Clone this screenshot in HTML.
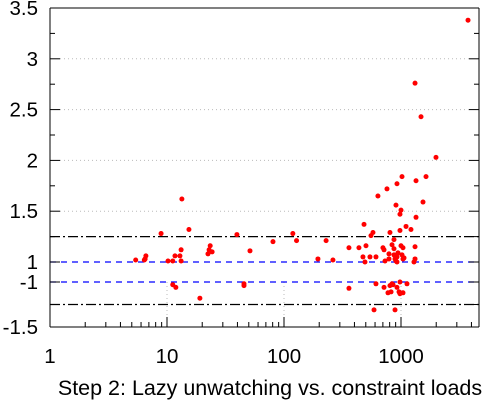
<!DOCTYPE html>
<html><head><meta charset="utf-8"><style>
html,body{margin:0;padding:0;background:#fff;}
svg{display:block;font-family:"Liberation Sans",sans-serif;}
</style></head><body>
<svg id="chart" width="500" height="400" viewBox="0 0 500 400" xmlns="http://www.w3.org/2000/svg"></svg>
<script>
const upperX=[5.4,6.4,6.5,6.6,8.9,10.2,11.2,11.7,12.9,13.2,13.2,13.4,15.4,22.4,22.9,23.4,24.3,39.6,51.2,80.5,119,128,195,229,262,
1020,1636,1344,924,759,635,906,1542,1000,980,1344,483,1104,1217,980,805,576,554,871,359,437,502,701,716,1040,1000,1318,838,871,789,942,1020,871,924,1061,473,543,611,789,889,1318,730,906,1040,492,1291,924,
1318,1483,1991,3740];
const upperY=[1.02,1.02,1.03,1.06,1.28,1.01,1.01,1.06,1.06,1.12,1.01,1.62,1.32,1.08,1.12,1.16,1.10,1.27,1.11,1.2,1.28,1.21,1.03,1.21,1.02,
1.84,1.84,1.80,1.77,1.72,1.65,1.56,1.59,1.51,1.47,1.44,1.37,1.35,1.32,1.31,1.29,1.29,1.26,1.22,1.14,1.14,1.16,1.14,1.12,1.14,1.16,1.15,1.17,1.13,1.08,1.09,1.07,1.07,1.05,1.04,1.05,1.05,1.05,1.03,1.03,1.03,1.01,1.01,1.03,1.0,1.0,1.0,
2.76,2.43,2.03,3.38];
const lowerX=[11.2,11.9,19.1,45.5,45.5,359,611,716,805,838,855,924,980,1125,774,822,962,980,1040,588,889];
const lowerY=[-1.03,-1.06,-1.18,-1.02,-1.04,-1.07,-1.02,-1.06,-1.04,-1.02,-1.03,-1.06,-1.0,-1.02,-1.12,-1.11,-1.11,-1.13,-1.12,-1.31,-1.31];
const upperTicks=[1,1.5,2,2.5,3,3.5];
const upperTickLabels=["1","1.5","2","2.5","3","3.5"];
const lowerTicks=[-1,-1.5];
const lowerTickLabels=["-1","-1.5"];
const xTicks=[1,10,100,1000];
const xTickLabels=["1","10","100","1000"];

const NS="http://www.w3.org/2000/svg";
const svg=document.getElementById('chart');
const L=50,R=479,T=8,B=327;
const xs=v=>L+Math.log10(v)*117;
const yu=v=>262-(v-1)*101.6;
const yl=v=>282+(-1-v)*90;
function mk(tag,attrs,parent){const e=document.createElementNS(NS,tag);for(const k in attrs)e.setAttribute(k,attrs[k]);(parent||svg).appendChild(e);return e;}
function line(x1,y1,x2,y2,st,dash,w,name){const e=mk('line',{x1,y1,x2,y2,stroke:st,'stroke-width':w||1});if(dash)e.setAttribute('stroke-dasharray',dash);

return e;}
[1.5,2,2.5,3].forEach(v=>{line(L+10,yu(v),R-10,yu(v),'#bbb','1,3',1,'grid-line');});
xTicks.slice(1).forEach(v=>{line(xs(v),282,xs(v),B,'#bbb','1,3',1,'grid-line');});
line(L,yu(1),R,yu(1),'#0000ff','6,5',1.2,'reference-line-1');
line(L,yl(-1),R,yl(-1),'#0000ff','6,5',1.2,'reference-line-minus-1');
line(L,yu(1.25),R,yu(1.25),'#000','10,3,2,3',1.2,'threshold-line-1-25');
line(L,yl(-1.25),R,yl(-1.25),'#000','10,3,2,3',1.2,'threshold-line-minus-1-25');
line(L,T,R,T,'#000',null,1,'top-border');
line(L,T,L,B,'#000',null,1,'y-axis');
line(R,T,R,B,'#000',null,1,'right-border');
line(L,B,R,B,'#000',null,1,'x-axis');
function ytick(y,len,lab,name){line(L,y,L+len,y,'#000',null,1,name);line(R,y,R-len,y,'#000',null,1,name);
if(lab!==null){const t=mk('text',{x:38,y:y+7,'text-anchor':'end','font-size':20.5,fill:'#000'});t.textContent=lab;

}}
upperTicks.forEach((v,i)=>ytick(yu(v),10,upperTickLabels[i],'y-tick'));
[1.25,1.75,2.25,2.75,3.25].forEach(v=>ytick(yu(v),5,null,'y-minor-tick'));
lowerTicks.forEach((v,i)=>ytick(yl(v),10,lowerTickLabels[i],'y-tick'));
ytick(yl(-1.25),5,null,'y-minor-tick');
for(let d=0;d<4;d++){for(let m=1;m<10;m++){const v=Math.pow(10,d)*m;const x=xs(v);if(x>R)break;
line(x,B,x,B-(m===1?10:5),'#000',null,1,m===1?'x-tick':'x-minor-tick');}}
xTicks.forEach((v,i)=>{const t=mk('text',{x:xs(v),y:363,'text-anchor':'middle','font-size':20.5,fill:'#000'});t.textContent=xTickLabels[i];

});
upperX.forEach((v,i)=>{const c=mk('circle',{cx:xs(v),cy:yu(upperY[i]),r:2.5,fill:'#ff0000'});

});
lowerX.forEach((v,i)=>{const c=mk('circle',{cx:xs(v),cy:yl(lowerY[i]),r:2.5,fill:'#ff0000'});

});
const tt=mk('text',{x:270,y:395,'text-anchor':'middle','font-size':21.5,fill:'#000'});tt.textContent='Step 2: Lazy unwatching vs. constraint loads';


</script>
</body></html>
